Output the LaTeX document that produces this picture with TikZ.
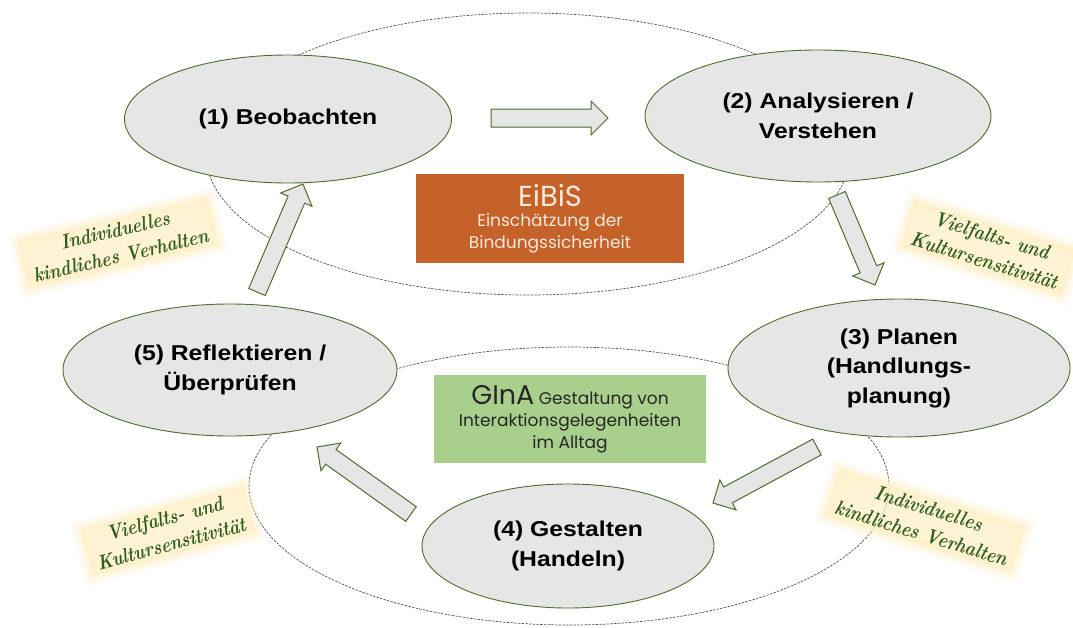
\documentclass[tikz,border=0pt]{standalone}
\usepackage{fontspec}
\setmainfont{Liberation Sans}
\newfontfamily\nodefont[FakeStretch=1.15]{Liberation Sans}
\newfontfamily\boxfont{Poppins}
\newfontfamily\handfont[FakeStretch=0.85]{Latin Modern Roman}
\usetikzlibrary{calc,shapes.geometric}
\definecolor{nodefill}{HTML}{E6E6E6}
\definecolor{nodeline}{HTML}{4F6B2E}
\definecolor{eibiscol}{HTML}{C5622A}
\definecolor{eibistext}{HTML}{F7E9DC}
\definecolor{ginacol}{HTML}{A8CF8C}
\definecolor{scriptgreen}{HTML}{2F5E1C}
\definecolor{cream}{HTML}{FFEFC4}
\definecolor{bgline}{HTML}{555555}
\tikzset{
  phase/.style={ellipse, draw=nodeline, line width=0.9pt, fill=nodefill, inner sep=0pt,
    align=center, font=\nodefont\bfseries\fontsize{21.5}{29.5}\selectfont},
  bgell/.style={ellipse, draw=bgline, line width=0.7pt, dash pattern=on 2.5pt off 1.2pt, inner sep=0pt},
  blockarrow/.style={draw=nodeline, line width=1pt, fill=nodefill, line join=miter},
  hand/.style={fill=cream, fill opacity=0.7, text opacity=1, text=scriptgreen, align=center,
    inner xsep=8pt, inner ysep=4pt,
    preaction={draw=cream, line width=16pt, draw opacity=0.22},
    preaction={draw=cream, line width=8pt, draw opacity=0.4},
    font=\handfont\bfseries\itshape\fontsize{20.5}{26}\selectfont},
  infobox/.style={inner sep=0pt, align=center, font=\boxfont\fontsize{17}{22}\selectfont}
}
\newcommand\blockarr[2]{%
  \path ($(#2)!17pt!(#1)$) coordinate (bb);
  \draw[blockarrow] ($(#1)!9pt!90:(#2)$) -- ($(bb)!9pt!-90:(#1)$) -- ($(bb)!17pt!-90:(#1)$)
    -- (#2) -- ($(bb)!17pt!90:(#1)$) -- ($(bb)!9pt!90:(#1)$) -- ($(#1)!9pt!-90:(#2)$) -- cycle;}
\begin{document}
\begin{tikzpicture}[x=1pt,y=-1pt]
\useasboundingbox (0,0) rectangle (1073,627);
\fill[white] (0,0) rectangle (1073,627);
% background cycle ellipses
\node[bgell, minimum width=644pt, minimum height=282pt] (bgtop) at (528,154) {};
\node[bgell, minimum width=640pt, minimum height=278pt] (bgbot) at (569,486) {};
% handwritten labels
\node[hand, rotate=13] (l1) at (118,243) {Individuelles\\kindliches Verhalten};
\node[hand, rotate=-17] (l2) at (988,248) {Vielfalts- und\\Kultursensitivität};
\node[hand, rotate=15] (l3) at (168,531) {Vielfalts- und\\Kultursensitivität};
\node[hand, rotate=-17] (l4) at (925,521) {Individuelles\\kindliches Verhalten};
% phases
\node[phase, minimum width=327pt, minimum height=128pt] (p1) at (288,119) {(1) Beobachten};
\node[phase, minimum width=346pt, minimum height=132pt] (p2) at (818,116) {(2) Analysieren /\\Verstehen};
\node[phase, minimum width=342pt, minimum height=138pt] (p3) at (899,368) {(3) Planen\\(Handlungs-\\planung)};
\node[phase, minimum width=292pt, minimum height=124pt] (p4) at (568,546) {(4) Gestalten\\(Handeln)};
\node[phase, minimum width=334pt, minimum height=132pt] (p5) at (230,370) {(5) Reflektieren /\\Überprüfen};
% block arrows
\coordinate (a1s) at (491,118); \coordinate (a1e) at (608,118);
\coordinate (a2s) at (837,195); \coordinate (a2e) at (875,285);
\coordinate (a3s) at (817,447); \coordinate (a3e) at (713,503);
\coordinate (a4s) at (411,514); \coordinate (a4e) at (317,447);
\coordinate (a5s) at (257,292); \coordinate (a5e) at (303,184);
\blockarr{a1s}{a1e}
\blockarr{a2s}{a2e}
\blockarr{a3s}{a3e}
\blockarr{a4s}{a4e}
\blockarr{a5s}{a5e}
% info boxes
\node[infobox, fill=eibiscol, text=eibistext, minimum width=268pt, minimum height=89pt] (eibis) at (550,218.5)
  {{\fontsize{29}{31}\selectfont EiBiS}\\[-2pt]Einschätzung der\\Bindungssicherheit};
\node[infobox, fill=ginacol, text=black!85, minimum width=272pt, minimum height=88pt] (gina) at (570,419)
  {{\fontsize{27}{28}\selectfont GInA} Gestaltung von\\Interaktionsgelegenheiten\\im Alltag};
\end{tikzpicture}
\end{document}
